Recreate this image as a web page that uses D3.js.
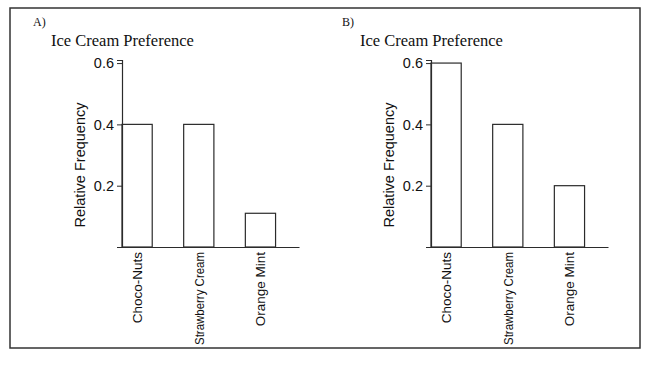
<!DOCTYPE html>
<html>
<head>
<meta charset="utf-8">
<script src="https://cdn.jsdelivr.net/npm/d3@7"></script>
<style>
  body { margin: 0; background: #fff; }
  svg { display: block; }
</style>
</head>
<body>
<svg id="chart" width="650" height="376"></svg>
<script>
// data
const categories = ["Choco-Nuts", "Strawberry Cream", "Orange Mint"];
const valuesA = [0.4, 0.4, 0.11];
const valuesB = [0.6, 0.4, 0.2];
const yTicks = [0.2, 0.4, 0.6];
const panelLabels = ["A)", "B)"];
const title = "Ice Cream Preference";
const yLabel = "Relative Frequency";

const ink = "#2b2b2b";
const serif = "'Liberation Serif', 'Times New Roman', Times, serif";
const sans = "'Liberation Sans', Arial, Helvetica, sans-serif";
const svg = d3.select("#chart");

// outer frame
svg.append("rect")
  .attr("x", 10).attr("y", 8)
  .attr("width", 630).attr("height", 340)
  .attr("fill", "none")
  .attr("stroke", "#333")
  .attr("stroke-width", 1.5);

function drawPanel(offsetX, label, values) {
  const g = svg.append("g").attr("transform", "translate(" + offsetX + ",0)");

  const y = d3.scaleLinear().domain([0, 0.61]).range([247, 60]);
  const x = d3.scaleBand()
    .domain(categories)
    .range([122, 299])
    .paddingInner(0.51)
    .paddingOuter(0.19)
    .align(0);

  // panel letter
  g.append("text")
    .attr("x", 33).attr("y", 26)
    .style("font-family", serif)
    .style("font-size", "12px")
    .attr("fill", "#111")
    .text(label);

  // title
  g.append("text")
    .attr("x", 51).attr("y", 46)
    .style("font-family", serif)
    .style("font-size", "16.5px")
    .attr("fill", "#111")
    .text(title);

  // bars
  g.selectAll("rect.bar")
    .data(values)
    .enter()
    .append("rect")
    .attr("class", "bar")
    .attr("x", function(d, i) { return x(categories[i]); })
    .attr("y", function(d) { return y(d); })
    .attr("width", x.bandwidth())
    .attr("height", function(d) { return y(0) - y(d); })
    .attr("fill", "#fff")
    .attr("stroke", ink)
    .attr("stroke-width", 1.2);

  // y axis
  const yAxis = d3.axisLeft(y)
    .tickValues(yTicks)
    .tickFormat(d3.format(".1f"))
    .tickSizeOuter(0)
    .tickSize(5)
    .tickPadding(3);
  const ya = g.append("g")
    .attr("transform", "translate(122,0)")
    .call(yAxis);
  ya.select(".domain").attr("stroke", ink).attr("stroke-width", 1.2);
  ya.selectAll(".tick line").attr("stroke", ink).attr("stroke-width", 1);
  ya.selectAll(".tick text")
    .style("font-family", sans)
    .style("font-size", "14.5px")
    .attr("fill", "#111");

  // x axis line, no ticks
  const xa = g.append("g")
    .attr("transform", "translate(0," + y(0) + ")")
    .call(d3.axisBottom(x).tickSize(0).tickSizeOuter(0).tickFormat(""));
  xa.select(".domain").attr("stroke", ink).attr("stroke-width", 1.2);

  // rotated category labels, squeezed a bit if they run past the frame
  g.selectAll("text.cat")
    .data(categories)
    .enter()
    .append("text")
    .attr("class", "cat")
    .attr("transform", function(d) {
      return "translate(" + (x(d) + x.bandwidth() / 2) + "," + (y(0) + 5) + ") rotate(-90)";
    })
    .attr("dy", "0.35em")
    .attr("text-anchor", "end")
    .style("font-family", sans)
    .style("font-size", "13.5px")
    .attr("fill", "#111")
    .text(function(d) { return d; })
    .each(function() {
      if (this.getComputedTextLength() > 93) {
        d3.select(this).attr("textLength", 93).attr("lengthAdjust", "spacingAndGlyphs");
      }
    });

  // y label
  g.append("text")
    .attr("transform", "translate(80,165) rotate(-90)")
    .attr("dy", "0.35em")
    .attr("text-anchor", "middle")
    .style("font-family", sans)
    .style("font-size", "14.5px")
    .attr("fill", "#111")
    .text(yLabel);
}

drawPanel(0, panelLabels[0], valuesA);
drawPanel(309, panelLabels[1], valuesB);
</script>
</body>
</html>
